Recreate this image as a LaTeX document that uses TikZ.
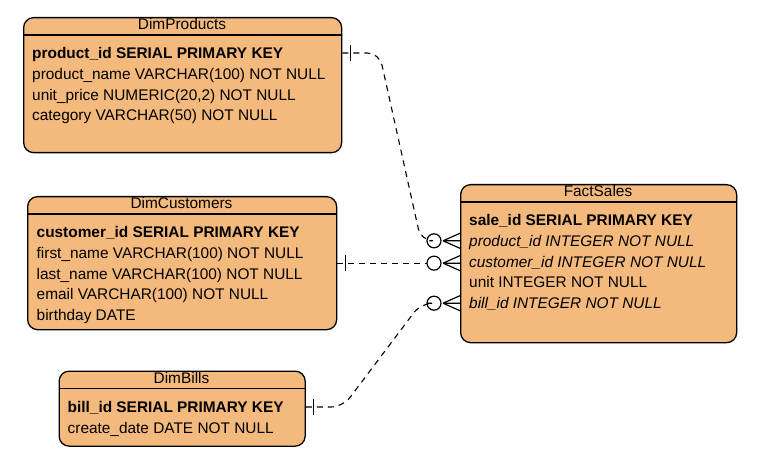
\documentclass[tikz,border=0pt]{standalone}
\usepackage{fontspec}
\setmainfont{Liberation Sans}
\usetikzlibrary{calc}
\definecolor{erfill}{HTML}{F4B97C}

\tikzset{
  erbox/.style={draw, line width=1.3pt, fill=erfill, rounded corners=10pt,
    inner sep=0pt, anchor=north west},
  ertitle/.style={anchor=base, inner sep=0pt, font=\fontsize{15.4}{18}\selectfont},
  field/.style={anchor=base west, inner sep=0pt, text height=11pt, text depth=0pt,
    font=\fontsize{15.4}{18}\selectfont},
  link/.style={dash pattern=on 6pt off 5pt, line width=1.1pt, rounded corners=12pt},
  zeromany/.pic={
    \draw[line width=1.2pt] (-26,0) circle[radius=7pt];
    \draw[line width=1.2pt] (-17,0) -- (0,-7.5) (-17,0) -- (0,0) (-17,0) -- (0,7.5);
  },
  onebar/.pic={\draw[line width=1.3pt] (8,-8) -- (8,8);}
}

\begin{document}
\begin{tikzpicture}[x=1pt, y=-1pt]
  \useasboundingbox (0,0) rectangle (757,470);

  % tables
  \node[erbox, minimum width=318pt, minimum height=135pt] (products) at (23,17) {};
  \draw[line width=1.3pt] (23,35) -- (341,35);
  \node[ertitle] (productstitle) at (182,30) {DimProducts};
  \node[field] (prodid) at (32,58.5) {\textbf{product\_id SERIAL PRIMARY KEY}};
  \node[field] (prodname) at (32,79.3) {product\_name VARCHAR(100) NOT NULL};
  \node[field] (prodprice) at (32,100.1) {unit\_price NUMERIC(20,2) NOT NULL};
  \node[field] (prodcat) at (32,120.9) {category VARCHAR(50) NOT NULL};

  \node[erbox, minimum width=309pt, minimum height=133pt] (customers) at (27,196) {};
  \draw[line width=1.3pt] (27,214) -- (336,214);
  \node[ertitle] (customerstitle) at (181.5,209) {DimCustomers};
  \node[field] (custid) at (36.5,237.5) {\textbf{customer\_id SERIAL PRIMARY KEY}};
  \node[field] (custfirst) at (36.5,258.3) {first\_name VARCHAR(100) NOT NULL};
  \node[field] (custlast) at (36.5,279.1) {last\_name VARCHAR(100) NOT NULL};
  \node[field] (custmail) at (36.5,299.9) {email VARCHAR(100) NOT NULL};
  \node[field] (custbirth) at (36.5,320.7) {birthday DATE};

  \node[erbox, minimum width=246pt, minimum height=75pt] (bills) at (58.5,370.5) {};
  \draw[line width=1.3pt] (58.5,388.5) -- (304.5,388.5);
  \node[ertitle] (billstitle) at (181.5,383.5) {DimBills};
  \node[field] (billid) at (67.5,412.5) {\textbf{bill\_id SERIAL PRIMARY KEY}};
  \node[field] (billdate) at (67.5,433.3) {create\_date DATE NOT NULL};

  \node[erbox, minimum width=276pt, minimum height=158pt] (fact) at (460,184) {};
  \draw[line width=1.3pt] (460,202) -- (736,202);
  \node[ertitle] (facttitle) at (598,197) {FactSales};
  \node[field] (factid) at (469,225.5) {\textbf{sale\_id SERIAL PRIMARY KEY}};
  \node[field] (factprod) at (469,246.3) {\itshape product\_id INTEGER NOT NULL};
  \node[field] (factcust) at (469,267.1) {\itshape customer\_id INTEGER NOT NULL};
  \node[field] (factunit) at (469,287.9) {unit INTEGER NOT NULL};
  \node[field] (factbill) at (469,308.7) {\itshape bill\_id INTEGER NOT NULL};

  % relations
  \coordinate (p1) at (products.east |- prodid.west);
  \coordinate (f1) at (fact.west |- factprod.west);
  \draw[link] (p1) -- ++(37,0) -- ($(f1)+(-39,0)$) -- ($(f1)+(-33,0)$);
  \pic at (p1) {onebar};
  \pic at (f1) {zeromany};

  \coordinate (f2) at (fact.west |- customers.east);
  \draw[link] (customers.east) -- ($(f2)+(-33,0)$);
  \pic at (customers.east) {onebar};
  \pic at (f2) {zeromany};

  \coordinate (p3) at (bills.east |- billid.west);
  \coordinate (f3) at (fact.west |- factbill.west);
  \draw[link] (p3) -- ++(37,0) -- ($(f3)+(-39,0)$) -- ($(f3)+(-33,0)$);
  \pic at (p3) {onebar};
  \pic at (f3) {zeromany};
\end{tikzpicture}
\end{document}
